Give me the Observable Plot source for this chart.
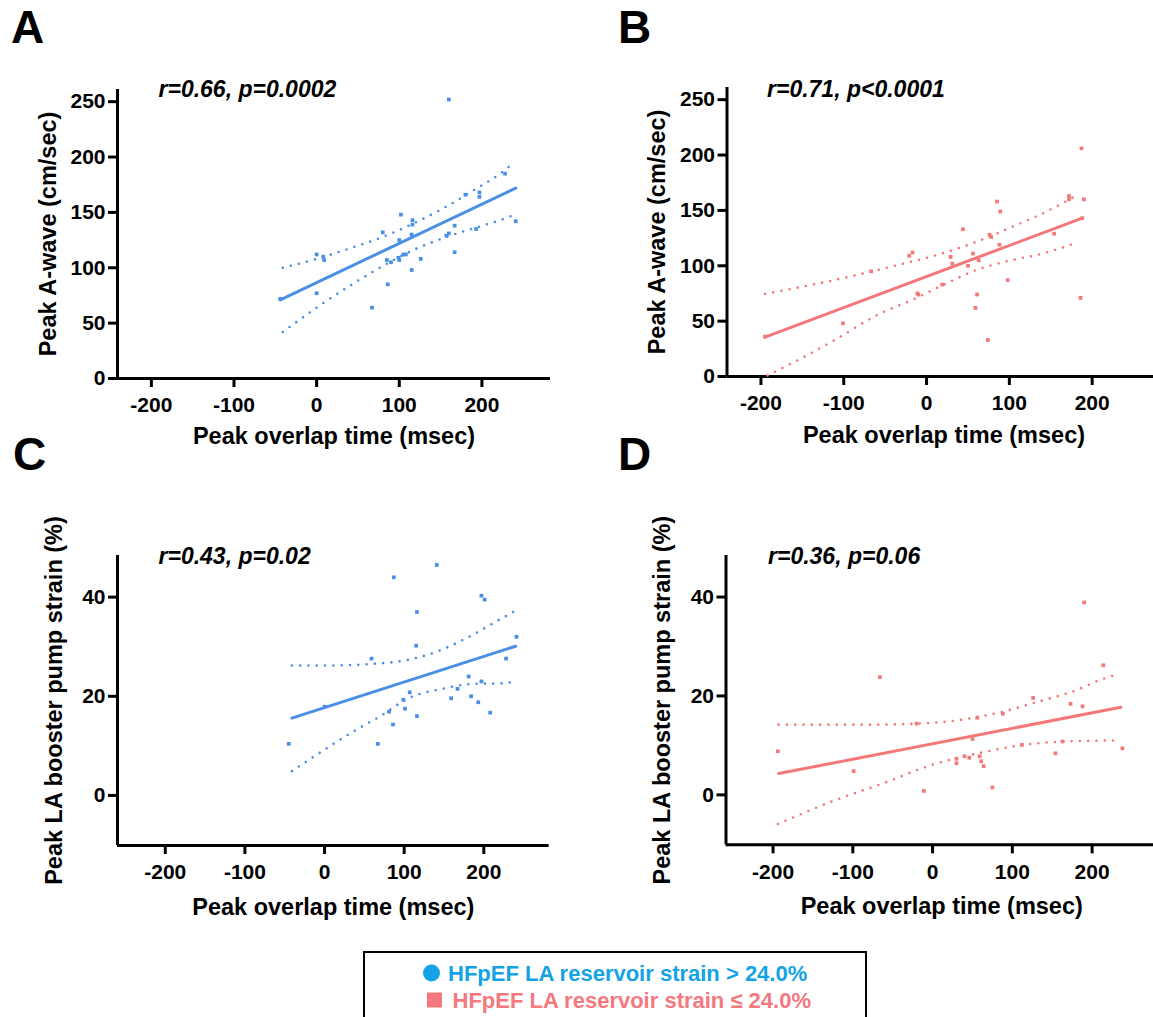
<!DOCTYPE html>
<html><head><meta charset="utf-8">
<script src="https://cdn.jsdelivr.net/npm/d3@7"></script>
<script src="https://cdn.jsdelivr.net/npm/@observablehq/plot@0.6"></script>
<style>
html,body{margin:0;padding:0;background:#fff;overflow:hidden;}
#root{position:relative;width:1153px;height:1017px;overflow:hidden;background:#fff;}
</style></head><body><div id="root"></div>
<script>
// ---------- data ----------
const xTicks = [-200, -100, 0, 100, 200];
const yTicksAB = [0, 50, 100, 150, 200, 250];
const yTicksCD = [0, 20, 40];

const xLabel = "Peak overlap time (msec)";
const yLabelAB = "Peak A-wave (cm/sec)";
const yLabelCD = "Peak LA booster pump strain (%)";
const annotations = ["r=0.66, p=0.0002", "r=0.71, p<0.0001", "r=0.43, p=0.02", "r=0.36, p=0.06"];
const panelLetters = ["A", "B", "C", "D"];
const legendLabels = ["HFpEF LA reservoir strain > 24.0%", "HFpEF LA reservoir strain \u2264 24.0%"];

// Panel A (blue)
const aX = [-44, 0, 0, 8, 9, 67, 80, 86, 85, 90, 99, 100, 102, 100, 105, 108, 115, 116, 116, 115, 126, 160, 167, 167, 157, 160, 193, 197, 197, 180, 228, 241];
const aY = [72, 77, 112, 110, 107, 64, 132, 85, 107, 105, 109, 107, 148, 125, 112, 112, 98, 143, 139, 130, 108, 252, 138, 114, 129, 131, 135, 164, 168, 166, 185, 142];
const aFitX = [-44, 241], aFitY = [71, 172];
const aUpX = [-41, 0, 40, 77, 117, 154, 190, 222, 234];
const aUpY = [100, 108, 117.5, 127, 140, 154, 170, 185, 192];
const aLoX = [-41, 0, 45, 81, 117, 158, 196, 222, 236];
const aLoY = [42, 64, 86, 102, 116, 128, 137, 143, 147];

// Panel B (salmon)
const bX = [187, 190, 172, 172, 188, 186, 154, 85, 89, 88, 44, 76, 78, 56, 50, 63, 29, 31, 61, 59, 74, 98, -21, -17, -11, -10, 19, -67, -101, -195];
const bY = [206, 160, 163, 160, 143, 71, 129, 158, 149, 119, 133, 128, 126, 111, 100, 105, 108, 102, 74, 62, 33, 87, 109, 112, 75, 74, 83, 95, 48, 36];
const bFitX = [-195, 188], bFitY = [35.6, 143];
const bUpX = [-195, -144, -91, -41, 9, 58, 106, 144, 182];
const bUpY = [74.6, 82, 90.5, 99.5, 109, 121, 136, 148.6, 164];
const bLoX = [-192, -154, -108, -61, -15, 21, 60, 100, 140, 182];
const bLoY = [1, 15.3, 34.2, 55, 70, 83, 96.2, 104.6, 111, 121];

// Panel C (blue)
const cX = [141, 87, 197, 201, 116, 115, 59, -45, 67, 86, 81, 99, 101, 107, 116, 159, 181, 184, 193, 208, 167, 197, 0, 228, 241];
const cY = [46.5, 44, 40.3, 39.5, 37, 30.2, 27.6, 10.4, 10.4, 14.3, 16.9, 19.3, 17.5, 20.8, 16, 19.6, 24, 20, 18.8, 16.7, 21.5, 23, 17.9, 27.6, 32];
const cFitX = [-41, 240], cFitY = [15.6, 30.1];
const cUpX = [-41, 1, 55, 100, 141, 179, 218, 237];
const cUpY = [26.2, 26.2, 26.5, 27.2, 29, 31.8, 35.3, 37];
const cLoX = [-41, -5, 30, 70, 108, 148, 187, 221, 234];
const cLoY = [4.9, 8.7, 12.3, 16, 19.8, 21.5, 22.5, 22.6, 22.8];

// Panel D (salmon)
const dX = [190, -66, -194, -99, -11, 75, 50, 30, 30, 40, 46, 59, 61, 64, -20, 56, 88, 126, 173, 188, 154, 112, 163, 214, 238];
const dY = [38.9, 23.8, 8.8, 4.8, 0.8, 1.5, 11.3, 6.4, 7.3, 7.8, 7.5, 7.8, 6.8, 5.8, 14.4, 15.6, 16.4, 19.6, 18.4, 17.9, 8.4, 10.1, 10.8, 26.2, 9.4];
const dFitX = [-193, 236], dFitY = [4.3, 17.7];
const dUpX = [-193, -74, 10, 77, 138, 179, 211, 231];
const dUpY = [14.2, 14.2, 14.7, 16.4, 19.1, 21.1, 23.3, 24.3];
const dLoX = [-194, -124, -61, 0, 60, 114, 177, 235];
const dLoY = [-5.9, -1.2, 2.4, 6.1, 8.5, 10.1, 10.85, 11];

// ---------- styling ----------
const BLUE = "#4a8fe6";
const SALMON = "#f47878";
const LEG_BLUE = "#13a3e6";
const LEG_SALMON = "#f5787f";
const FONT = "'Liberation Sans', Arial, Helvetica, sans-serif";

const root = document.getElementById("root");
const zip = (xs, ys) => xs.map((x, i) => ({x, y: ys[i]}));

function panel(c) {
  const W = 600, H = 480;
  const dotted = {x: "x", y: "y", stroke: c.color, strokeWidth: 2.6, strokeLinecap: "round", strokeDasharray: "0,8.3", curve: "monotone-x"};
  const svg = Plot.plot({
    width: W, height: H,
    marginLeft: c.frame[0] - c.left,
    marginRight: c.left + W - c.frame[1],
    marginTop: c.frame[2] - c.top,
    marginBottom: c.top + H - c.frame[3],
    x: {domain: c.xDomain},
    y: {domain: c.yDomain},
    style: {fontFamily: FONT, fontWeight: "bold", color: "#000", background: "transparent", overflow: "visible"},
    marks: [
      Plot.axisX(xTicks, {tickSize: 9, tickPadding: 10, fontSize: 21, fontWeight: "bold", strokeWidth: 3, tickFormat: d => String(d), label: null}),
      Plot.axisY(c.yTicks, {tickSize: 9, tickPadding: 3, fontSize: 21, fontWeight: "bold", strokeWidth: 3, tickFormat: d => String(d), label: null}),
      Plot.ruleX([c.xDomain[0]], {strokeWidth: 3, stroke: "#000"}),
      Plot.ruleY([c.yDomain[0]], {strokeWidth: 3, stroke: "#000"}),
      Plot.line(zip(c.upX, c.upY), dotted),
      Plot.line(zip(c.loX, c.loY), dotted),
      Plot.line(zip(c.fitX, c.fitY), {x: "x", y: "y", stroke: c.color, strokeWidth: 3}),
      Plot.dot(zip(c.x, c.y), {x: "x", y: "y", symbol: "square", r: 2.1, fill: c.color}),
      Plot.text([c.yLabel], {frameAnchor: "left", dx: c.yLabelDx, rotate: -90, textAnchor: "middle", lineAnchor: "middle", fontSize: 23.5, fontWeight: "bold", fill: "#000"}),
      Plot.text([xLabel], {frameAnchor: "bottom", dy: c.xLabelDy, textAnchor: "middle", lineAnchor: "middle", fontSize: 23.5, fontWeight: "bold", fill: "#000"}),
      Plot.text([c.ann], {frameAnchor: "top-left", dx: c.annDx, dy: c.annDy, textAnchor: "start", lineAnchor: "middle", fontSize: 23, fontWeight: "bold", fontStyle: "italic", fill: "#000"})
    ]
  });
  svg.style.position = "absolute";
  svg.style.left = c.left + "px";
  svg.style.top = c.top + "px";
  svg.style.maxWidth = "none";
  root.appendChild(svg);
}

panel({left: 0, top: 0, frame: [117, 550, 89, 378], xDomain: [-241, 283], yDomain: [0, 261], yTicks: yTicksAB,
  x: aX, y: aY, fitX: aFitX, fitY: aFitY, upX: aUpX, upY: aUpY, loX: aLoX, loY: aLoY, color: BLUE,
  yLabel: yLabelAB, yLabelDx: -69, xLabelDy: 58, ann: annotations[0], annDx: 41, annDy: 0});
panel({left: 580, top: 0, frame: [726.5, 1160.4, 87, 376], xDomain: [-241, 283], yDomain: [0, 261], yTicks: yTicksAB,
  x: bX, y: bY, fitX: bFitX, fitY: bFitY, upX: bUpX, upY: bUpY, loX: bLoX, loY: bLoY, color: SALMON,
  yLabel: yLabelAB, yLabelDx: -70, xLabelDy: 59, ann: annotations[1], annDx: 40, annDy: 2});
panel({left: 0, top: 470, frame: [117, 548.6, 555, 845], xDomain: [-260, 282], yDomain: [-10.1, 48.4], yTicks: yTicksCD,
  x: cX, y: cY, fitX: cFitX, fitY: cFitY, upX: cUpX, upY: cUpY, loX: cLoX, loY: cLoY, color: BLUE,
  yLabel: yLabelCD, yLabelDx: -63, xLabelDy: 62, ann: annotations[2], annDx: 41, annDy: 1});
panel({left: 580, top: 470, frame: [725.5, 1157, 555, 844.3], xDomain: [-259, 282], yDomain: [-10.1, 48.4], yTicks: yTicksCD,
  x: dX, y: dY, fitX: dFitX, fitY: dFitY, upX: dUpX, upY: dUpY, loX: dLoX, loY: dLoY, color: SALMON,
  yLabel: yLabelCD, yLabelDx: -63.5, xLabelDy: 62, ann: annotations[3], annDx: 42, annDy: 1});

// ---------- panel letters and legend ----------
const ov = d3.create("svg").attr("width", 1153).attr("height", 1017)
  .style("position", "absolute").style("left", "0px").style("top", "0px")
  .style("font-family", FONT).style("font-weight", "bold");
const letterPos = [[11, 43], [618, 43], [13, 470], [618, 470]];
panelLetters.forEach((t, i) => ov.append("text").attr("x", letterPos[i][0]).attr("y", letterPos[i][1])
  .attr("font-size", 46).attr("fill", "#000").text(t));

ov.append("rect").attr("x", 364).attr("y", 952).attr("width", 502).attr("height", 120)
  .attr("fill", "#fff").attr("stroke", "#000").attr("stroke-width", 2);
ov.append("circle").attr("cx", 431.5).attr("cy", 973).attr("r", 8.5).attr("fill", LEG_BLUE);
ov.append("text").attr("x", 448).attr("y", 981).attr("font-size", 22).attr("fill", LEG_BLUE).text(legendLabels[0]);
ov.append("rect").attr("x", 427).attr("y", 992.5).attr("width", 15).attr("height", 15).attr("fill", LEG_SALMON);
ov.append("text").attr("x", 452.5).attr("y", 1008).attr("font-size", 22).attr("fill", LEG_SALMON).text(legendLabels[1]);
root.appendChild(ov.node());
</script></body></html>
